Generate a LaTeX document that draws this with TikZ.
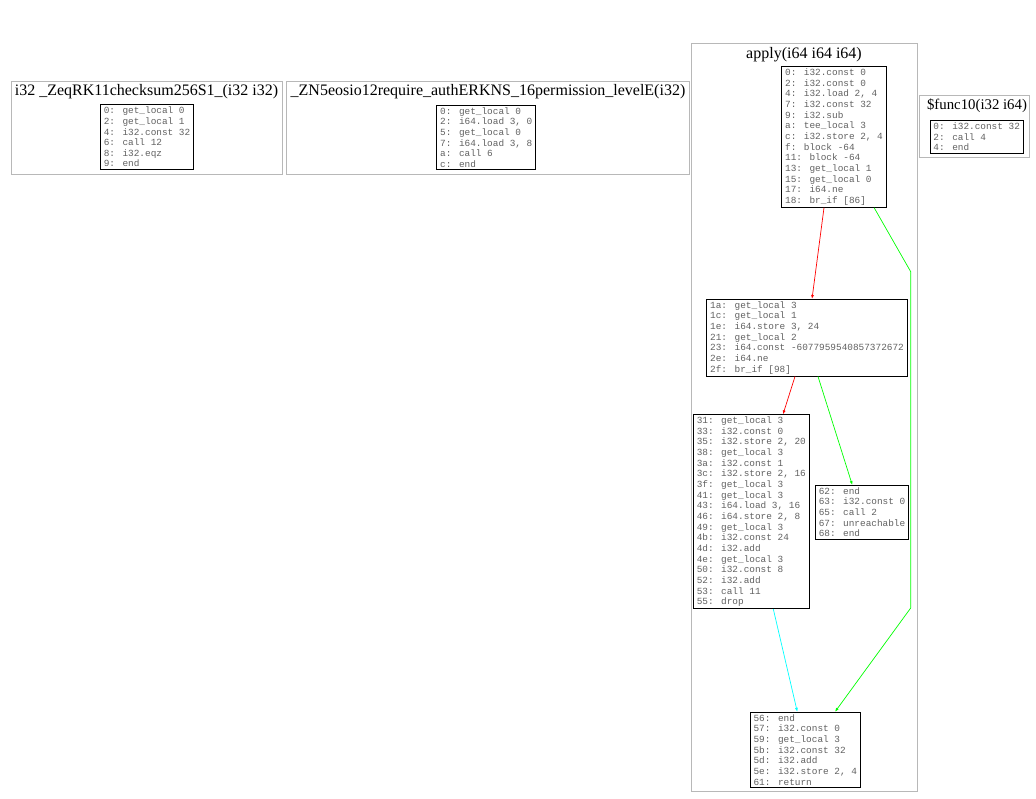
\documentclass[tikz,border=0pt]{standalone}
\usepackage{fontspec}
\setmainfont{Liberation Serif}
\newfontfamily\codefont{Liberation Mono}
\usetikzlibrary{arrows.meta}
\definecolor{edgered}{RGB}{255,0,0}
\definecolor{edgegreen}{RGB}{0,255,0}
\definecolor{edgecyan}{RGB}{0,255,255}

\begin{document}
\begin{tikzpicture}[x=1pt,y=-1pt,
  blk/.style={draw=black,line width=0.9pt,align=left,inner xsep=3.5pt,inner ysep=2pt,
    font={\codefont\fontsize{9.4}{10.65}\selectfont},text=black!62},
  clu/.style={draw=black!28,line width=0.9pt},
  ttl/.style={anchor=base,inner sep=0pt,font={\fontsize{16}{16}\selectfont}},
  edge/.style={-{Latex[length=4pt,width=3pt]},line width=0.7pt}]
\useasboundingbox (0,0) rectangle (1036,799);
% clusters
\draw[clu] (11,81) rectangle (282,174);
\draw[clu] (286,81) rectangle (689,174);
\draw[clu] (691,43) rectangle (917,791);
\draw[clu] (919,95) rectangle (1029,157);
\node[ttl] (t1) at (146.5,95.5) {i32 \_ZeqRK11checksum256S1\_(i32 i32)};
\node[ttl] (t2) at (488,95.5) {\_ZN5eosio12require\_authERKNS\_16permission\_levelE(i32)};
\node[ttl] (t3) at (804,58.5) {apply(i64 i64 i64)};
\node[ttl,font={\fontsize{14.8}{15}\selectfont}] (t4) at (977,110) {\$func10(i32 i64)};
% blocks
\node[blk] (n1) at (147,137) {0: get\_local 0\\2: get\_local 1\\4: i32.const 32\\6: call 12\\8: i32.eqz\\9: end};
\node[blk] (n2) at (486.3,137.5) {0: get\_local 0\\2: i64.load 3, 0\\5: get\_local 0\\7: i64.load 3, 8\\a: call 6\\c: end};
\node[blk] (A) at (834,137) {0: i32.const 0\\2: i32.const 0\\4: i32.load 2, 4\\7: i32.const 32\\9: i32.sub\\a: tee\_local 3\\c: i32.store 2, 4\\f: block -64\\11: block -64\\13: get\_local 1\\15: get\_local 0\\17: i64.ne\\18: br\_if [86]};
\node[blk] (B) at (807,337.7) {1a: get\_local 3\\1c: get\_local 1\\1e: i64.store 3, 24\\21: get\_local 2\\23: i64.const -6077959540857372672\\2e: i64.ne\\2f: br\_if [98]};
\node[blk] (C) at (751.3,511.7) {31: get\_local 3\\33: i32.const 0\\35: i32.store 2, 20\\38: get\_local 3\\3a: i32.const 1\\3c: i32.store 2, 16\\3f: get\_local 3\\41: get\_local 3\\43: i64.load 3, 16\\46: i64.store 2, 8\\49: get\_local 3\\4b: i32.const 24\\4d: i32.add\\4e: get\_local 3\\50: i32.const 8\\52: i32.add\\53: call 11\\55: drop};
\node[blk] (D) at (862,512.2) {62: end\\63: i32.const 0\\65: call 2\\67: unreachable\\68: end};
\node[blk] (E) at (805.3,749.7) {56: end\\57: i32.const 0\\59: get\_local 3\\5b: i32.const 32\\5d: i32.add\\5e: i32.store 2, 4\\61: return};
\node[blk] (F) at (976.7,137) {0: i32.const 32\\2: call 4\\4: end};
% edges
\coordinate (g1) at (910.7,271.7);
\coordinate (g2) at (910.7,608);
\draw[edge,edgered] ([xshift=-10pt]A.south) -- ([xshift=5pt]B.north);
\draw[edge,edgegreen] ([xshift=-12.7pt]A.south east) -- (g1) -- (g2) -- ([xshift=29.7pt]E.north);
\draw[edge,edgered] ([xshift=-12pt]B.south) -- ([xshift=31.7pt]C.north);
\draw[edge,edgegreen] ([xshift=11pt]B.south) -- ([xshift=-9.7pt]D.north);
\draw[edge,edgecyan] ([xshift=22pt]C.south) -- ([xshift=-8pt]E.north);
\end{tikzpicture}
\end{document}
